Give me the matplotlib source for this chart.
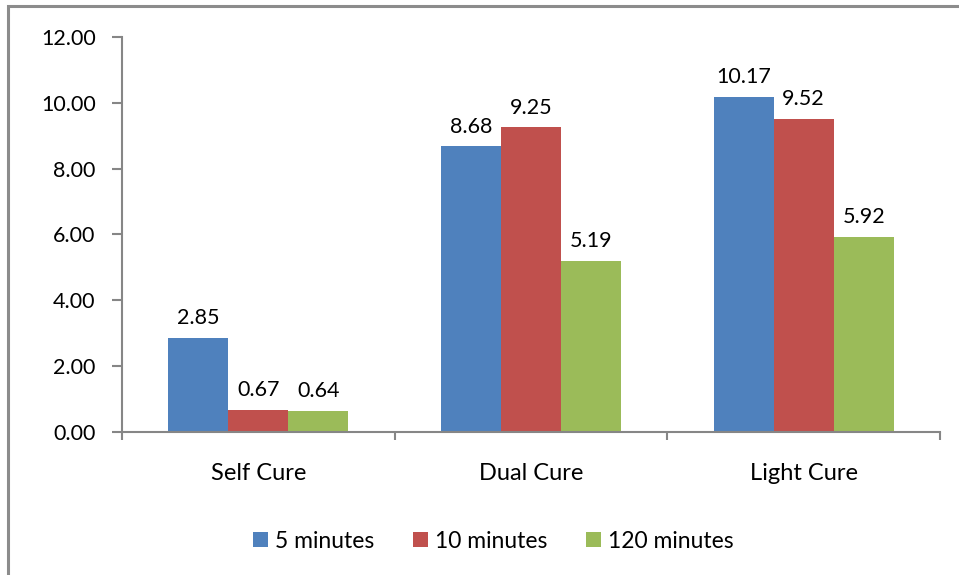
import matplotlib.pyplot as plt
import numpy as np
from matplotlib.patches import Rectangle

plt.rcParams['font.family'] = ['Lato', 'DejaVu Sans']

categories = ['Self Cure', 'Dual Cure', 'Light Cure']
series_names = ['5 minutes', '10 minutes', '120 minutes']
vals_5 = [2.85, 8.68, 10.17]
vals_10 = [0.67, 9.25, 9.52]
vals_120 = [0.64, 5.19, 5.92]
colors = ['#4f81bd', '#c0504d', '#9bbb59']
yticks = [0, 2, 4, 6, 8, 10, 12]

fig = plt.figure(figsize=(9.59, 5.75), dpi=100)
ax = fig.add_axes([0.1272, 0.2487, 0.853, 0.687])

# outer chart border (right/bottom fall outside the image)
fig.patches.append(Rectangle((8/959, -0.1), 1.2, 1 - 6/575 + 0.1,
                             transform=fig.transFigure, fill=False,
                             edgecolor='#8c8c8c', linewidth=2.2))

x = np.arange(len(categories))
w = 0.22
for i, (vals, name) in enumerate(zip([vals_5, vals_10, vals_120], series_names)):
    pos = x + (i - 1) * w
    ax.bar(pos, vals, w, color=colors[i], label=name)
    for p, v in zip(pos, vals):
        ax.annotate('%.2f' % v, (p, v), xytext=(0, 7), textcoords='offset points',
                    ha='center', va='bottom', fontsize=15.5)

ax.set_xlim(-0.5, 2.5)
ax.set_ylim(0, 12)
ax.set_yticks(yticks)
ax.set_yticklabels(['%.2f' % t for t in yticks], fontsize=15.5)
ax.set_xticks(x)
ax.set_xticklabels(categories, fontsize=17)
ax.tick_params(axis='x', which='major', length=0, pad=22)
ax.set_xticks([-0.5, 0.5, 1.5, 2.5], minor=True)
ax.tick_params(axis='x', which='minor', length=6, color='#868686', width=1.5, direction='out')
ax.tick_params(axis='y', length=7, color='#868686', width=1.5, pad=12)

for s in ['top', 'right']:
    ax.spines[s].set_visible(False)
for s in ['left', 'bottom']:
    ax.spines[s].set_color('#868686')
    ax.spines[s].set_linewidth(1.5)

ax.legend(loc='center', bbox_to_anchor=(493/959, 1 - 541/575), bbox_transform=fig.transFigure,
          ncol=3, frameon=False, fontsize=16.5, handlelength=0.65, handleheight=0.65,
          handletextpad=0.3, columnspacing=1.7)

fig.savefig('out.png')
